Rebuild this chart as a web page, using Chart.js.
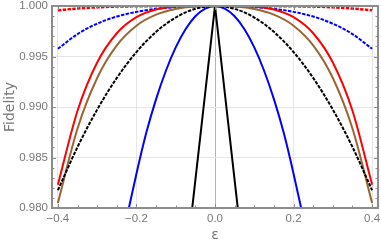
<!DOCTYPE html>
<html><head><meta charset="utf-8">
<script src="https://cdn.jsdelivr.net/npm/chart.js@4.4.1/dist/chart.umd.min.js"></script>
<style>html,body{margin:0;padding:0;background:#fff;}#wrap{width:381px;height:246px;}</style>
</head><body><div id="wrap"><canvas id="c" width="381" height="246"></canvas></div>
<script>
// epsilon grid shared by the smooth curves
const eps = [-0.4,-0.35,-0.3,-0.25,-0.2,-0.15,-0.1,-0.05,0,0.05,0.1,0.15,0.2,0.25,0.3,0.35,0.4];
const redDashed   = [0.99958,0.99975,0.99987,0.99994,0.99997,0.99999,1.0,1.0,1.0,1.0,1.0,0.99999,0.99997,0.99994,0.99987,0.99975,0.99958];
const blueDashed  = [0.99576,0.99722,0.99825,0.99896,0.99942,0.99972,0.99989,0.99997,1.0,0.99997,0.99989,0.99972,0.99942,0.99896,0.99825,0.99722,0.99576];
const redSolid    = [0.98231,0.98963,0.99440,0.99730,0.99889,0.99965,0.99993,0.99999,1.0,0.99999,0.99993,0.99965,0.99889,0.99730,0.99440,0.98963,0.98231];
const brownSolid  = [0.98050,0.98787,0.99287,0.99610,0.99805,0.99914,0.99970,0.99994,1.0,0.99994,0.99970,0.99914,0.99805,0.99610,0.99287,0.98787,0.98050];
const blackDashed = [0.98176,0.98604,0.98974,0.99288,0.99544,0.99744,0.99886,0.99972,1.0,0.99972,0.99886,0.99744,0.99544,0.99288,0.98974,0.98604,0.98176];
// blue solid curve (steep parabola)
const epsBlue   = [-0.25,-0.225,-0.2,-0.175,-0.15,-0.125,-0.1,-0.075,-0.05,-0.025,0,0.025,0.05,0.075,0.1,0.125,0.15,0.175,0.2,0.225,0.25];
const blueSolid = [0.97438,0.97900,0.98340,0.98744,0.99078,0.99359,0.99590,0.99769,0.99898,0.99974,1.0,0.99974,0.99898,0.99769,0.99590,0.99359,0.99078,0.98744,0.98340,0.97900,0.97438];
// black solid V shape
const epsV   = [-0.1,0,0.1];
const blackV = [0.9655,1.0,0.9655];
// ticks
const xTicks = [-0.4,-0.35,-0.3,-0.25,-0.2,-0.15,-0.1,-0.05,0,0.05,0.1,0.15,0.2,0.25,0.3,0.35,0.4];
const xMajor = [-0.4,-0.2,0,0.2,0.4];
const yTicks = [0.980,0.981,0.982,0.983,0.984,0.985,0.986,0.987,0.988,0.989,0.990,0.991,0.992,0.993,0.994,0.995,0.996,0.997,0.998,0.999,1.000];
const yMajor = [0.980,0.985,0.990,0.995,1.000];

const near = (a,b)=>Math.abs(a-b)<1e-9;
const isXMajor = v => xMajor.some(m=>near(m,v));
const isYMajor = v => yMajor.some(m=>near(m,v));
const pts = (xs, ys) => xs.map((x,i)=>({x:x, y:ys[i]}));

const FRAME = '#8c8c8c';
const TXT = '#777777';
const DASH = [3.5,1.3];

const framePlugin = {
  id:'frame',
  afterDatasetsDraw(chart){
    const {ctx, chartArea:a, scales} = chart;
    const x = scales.x, y = scales.y;
    ctx.save();
    ctx.strokeStyle = FRAME; ctx.lineWidth = 1;
    ctx.beginPath();
    xTicks.forEach(v=>{
      const px = Math.round(x.getPixelForValue(v))+0.5;
      const L = isXMajor(v) ? 4 : 2.5;
      ctx.moveTo(px, a.bottom); ctx.lineTo(px, a.bottom-L);
      ctx.moveTo(px, a.top); ctx.lineTo(px, a.top+L);
    });
    yTicks.forEach(v=>{
      const py = Math.round(y.getPixelForValue(v))+0.5;
      const L = isYMajor(v) ? 4 : 2.5;
      ctx.moveTo(a.left, py); ctx.lineTo(a.left+L, py);
      ctx.moveTo(a.right, py); ctx.lineTo(a.right-L, py);
    });
    ctx.stroke();
    ctx.lineWidth = 2;
    ctx.strokeRect(a.left, a.top, a.right-a.left, a.bottom-a.top);
    ctx.restore();
  }
};

const common = {fill:false, pointRadius:0, borderWidth:2, cubicInterpolationMode:'monotone'};

new Chart(document.getElementById('c'), {
  type:'line',
  data:{datasets:[
    Object.assign({data:pts(eps,blackDashed), borderColor:'#000000', borderDash:DASH}, common),
    Object.assign({data:pts(eps,brownSolid), borderColor:'#996633'}, common),
    Object.assign({data:pts(eps,redSolid), borderColor:'#ff0000'}, common),
    Object.assign({data:pts(epsBlue,blueSolid), borderColor:'#0000ff'}, common),
    Object.assign({data:pts(epsV,blackV), borderColor:'#000000', tension:0, cubicInterpolationMode:'default'}, {fill:false,pointRadius:0,borderWidth:2}),
    Object.assign({data:pts(eps,blueDashed), borderColor:'#0000ff', borderDash:DASH}, common),
    Object.assign({data:pts(eps,redDashed), borderColor:'#ff0000', borderDash:DASH, borderWidth:2.5}, {fill:false,pointRadius:0,cubicInterpolationMode:'monotone'})
  ]},
  options:{
    responsive:false, animation:false, devicePixelRatio:1,
    layout:{padding:{top:6,right:3,left:0,bottom:0}},
    plugins:{legend:{display:false}, tooltip:{enabled:false}},
    scales:{
      x:{type:'linear', min:-0.415, max:0.415,
        afterBuildTicks:s=>{s.ticks = xTicks.map(v=>({value:v}));},
        afterFit:s=>{s.height=38; s.paddingLeft=0; s.paddingRight=0;},
        border:{display:false},
        grid:{drawTicks:false, lineWidth:1,
          color:c=>{const v=c.tick?c.tick.value:NaN; if(near(v,0)) return '#b4b4b4'; return isXMajor(v)?'#e6e6e6':'rgba(0,0,0,0)';}},
        ticks:{autoSkip:false, maxRotation:0, padding:4, color:TXT,
          font:{family:'Liberation Sans', size:11.5},
          callback:v=>isXMajor(v)?((v<-1e-9?'\u2212':'')+Math.abs(v).toFixed(1)):''},
        title:{display:true, text:'\u03b5', color:TXT, font:{family:'DejaVu Sans', size:14}, padding:{top:0,bottom:2}}
      },
      y:{type:'linear', min:0.98, max:1.0,
        afterBuildTicks:s=>{s.ticks = yTicks.map(v=>({value:v}));},
        afterFit:s=>{s.width=52; s.paddingTop=0; s.paddingBottom=0;},
        border:{display:false},
        grid:{drawTicks:false, lineWidth:1,
          color:c=>{const v=c.tick?c.tick.value:NaN; return isYMajor(v)?'#e6e6e6':'rgba(0,0,0,0)';}},
        ticks:{autoSkip:false, padding:4, color:TXT,
          font:{family:'Liberation Sans', size:11.5},
          callback:v=>isYMajor(v)?v.toFixed(3):''},
        title:{display:true, text:'Fidelity', color:TXT, font:{family:'DejaVu Sans', size:14}, padding:{top:2,bottom:0}}
      }
    }
  },
  plugins:[framePlugin]
});
</script>
</body></html>
